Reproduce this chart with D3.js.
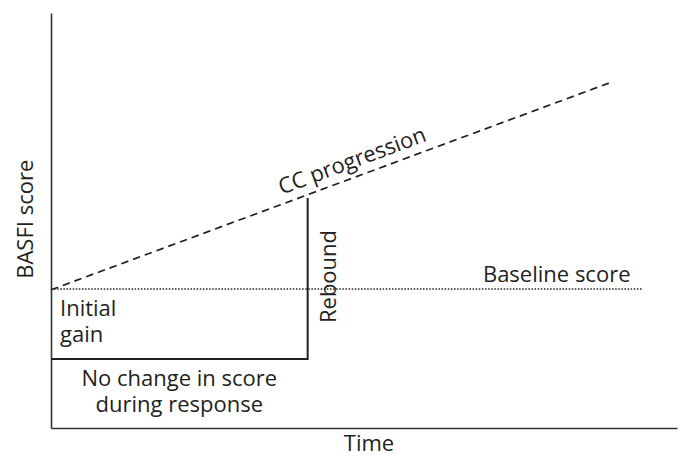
<!DOCTYPE html>
<html>
<head>
<meta charset="utf-8">
<script src="https://cdn.jsdelivr.net/npm/d3@7"></script>
<style>
  html, body { margin: 0; padding: 0; background: #fff; }
  svg { display: block; }
  text { font-family: "Open Sans", "Noto Sans", sans-serif; fill: #231f20; }
</style>
</head>
<body>
<div id="chart"></div>
<script>
// ---- data (schematic, arbitrary units 0-100) ----
const timeDomain = [0, 100];
const scoreDomain = [0, 100];
const baselineScore = 33.5;
const baselineEnd = 94.6;
const ccProgression = [
  { t: 0, s: 33.3 },
  { t: 89.1, s: 83.1 }
];
const responsePath = [
  { t: 0, s: 16.6 },
  { t: 41, s: 16.6 },
  { t: 41, s: 55.4 }
];
const axisLabels = { x: "Time", y: "BASFI score" };
const annotations = {
  cc: "CC progression",
  baseline: "Baseline score",
  rebound: "Rebound",
  gain: ["Initial", "gain"],
  noChange: ["No change in score", "during response"]
};

// ---- layout ----
const W = 678, H = 457;
const margin = { left: 51, right: 1, top: 13, bottom: 29 };
const FS = 22;
const LH = 26;

const svg = d3.select("#chart").append("svg")
  .attr("width", W).attr("height", H);

const x = d3.scaleLinear().domain(timeDomain).range([margin.left, W - margin.right]);
const y = d3.scaleLinear().domain(scoreDomain).range([H - margin.bottom, margin.top]);

// axes (no ticks)
const gx = svg.append("g")
  .attr("transform", `translate(0,${y(0)})`)
  .call(d3.axisBottom(x).tickValues([]).tickSizeOuter(0));
const gy = svg.append("g")
  .attr("transform", `translate(${x(0)},0)`)
  .call(d3.axisLeft(y).tickValues([]).tickSizeOuter(0));
[gx, gy].forEach(g => g.select(".domain").attr("stroke", "#333").attr("stroke-width", 1.6));

// baseline (dotted)
svg.append("line")
  .attr("x1", x(0)).attr("x2", x(baselineEnd))
  .attr("y1", y(baselineScore)).attr("y2", y(baselineScore))
  .attr("stroke", "#231f20").attr("stroke-width", 1.5)
  .attr("stroke-dasharray", "1.5,1.6");

// CC progression (dashed)
const line = d3.line().x(d => x(d.t)).y(d => y(d.s));
svg.append("path").datum(ccProgression)
  .attr("d", line)
  .attr("fill", "none").attr("stroke", "#231f20").attr("stroke-width", 1.7)
  .attr("stroke-dasharray", "7.5,5");

// response path (solid step)
svg.append("path").datum(responsePath)
  .attr("d", line)
  .attr("fill", "none").attr("stroke", "#231f20").attr("stroke-width", 2);

// axis labels
svg.append("text")
  .attr("x", x(50.8)).attr("y", H - 6)
  .attr("text-anchor", "middle").attr("font-size", FS)
  .text(axisLabels.x);
svg.append("text")
  .attr("transform", `translate(33,${y(50.3)}) rotate(-90)`)
  .attr("text-anchor", "middle").attr("font-size", FS)
  .text(axisLabels.y);

// CC progression label along the line
const p0 = ccProgression[0], p1 = ccProgression[1];
const ang = Math.atan2(y(p1.s) - y(p0.s), x(p1.t) - x(p0.t)) * 180 / Math.PI;
const tMid = 49;
const sMid = p0.s + (p1.s - p0.s) * (tMid - p0.t) / (p1.t - p0.t);
svg.append("text")
  .attr("transform", `translate(${x(tMid)},${y(sMid)}) rotate(${ang}) translate(0,-9)`)
  .attr("text-anchor", "middle").attr("font-size", FS)
  .text(annotations.cc);

// Baseline score label
svg.append("text")
  .attr("x", x(69)).attr("y", y(baselineScore) - 7)
  .attr("text-anchor", "start").attr("font-size", FS)
  .text(annotations.baseline);

// Rebound label (vertical)
const rb = responsePath[2];
svg.append("text")
  .attr("transform", `translate(${x(rb.t) + 28},${y(36.5)}) rotate(-90)`)
  .attr("text-anchor", "middle").attr("font-size", FS)
  .text(annotations.rebound);

// Initial gain (one text per line)
svg.selectAll("text.gain").data(annotations.gain).join("text")
  .attr("class", "gain")
  .attr("x", x(0) + 9)
  .attr("y", (d, i) => y(baselineScore) + 27 + i * LH)
  .attr("font-size", FS)
  .text(d => d);

// No change in score during response (one text per line)
const g0 = responsePath[0], g1 = responsePath[1];
const cx = (x(g0.t) + x(g1.t)) / 2;
svg.selectAll("text.nochange").data(annotations.noChange).join("text")
  .attr("class", "nochange")
  .attr("x", cx)
  .attr("y", (d, i) => y(g0.s) + 27 + i * LH)
  .attr("text-anchor", "middle").attr("font-size", FS)
  .text(d => d);
</script>
</body>
</html>
